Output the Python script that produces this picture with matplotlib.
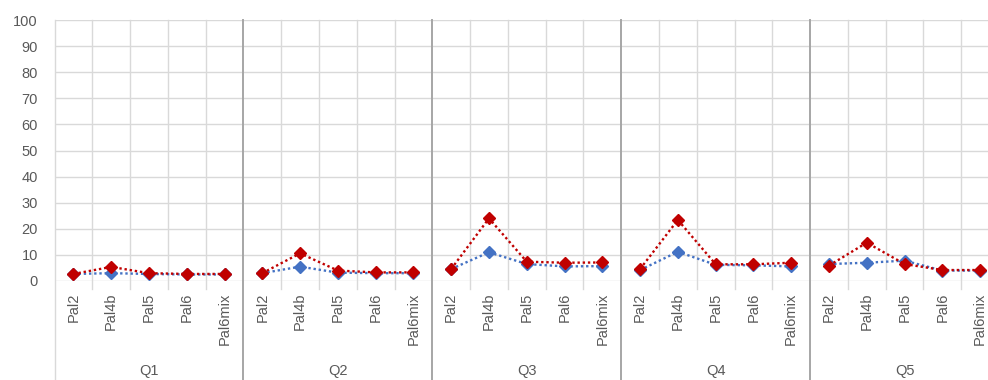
import matplotlib
matplotlib.use("Agg")
import matplotlib.pyplot as plt
import matplotlib.transforms as mtransforms

plt.rcParams['font.family'] = ['Liberation Sans', 'DejaVu Sans']

groups = ["Q1", "Q2", "Q3", "Q4", "Q5"]
categories = ["Pal2", "Pal4b", "Pal5", "Pal6", "Pal6mix"]

blue_vals = [
    [2.7, 3.0, 2.7, 2.5, 2.5],
    [3.0, 5.5, 3.2, 3.0, 3.0],
    [4.6, 11.0, 6.5, 5.6, 5.7],
    [4.2, 11.2, 6.2, 6.0, 5.6],
    [6.5, 7.0, 7.8, 4.0, 4.0],
]
red_vals = [
    [2.7, 5.4, 3.0, 2.7, 2.7],
    [3.0, 10.6, 4.0, 3.3, 3.3],
    [4.6, 24.0, 7.4, 7.0, 7.1],
    [4.6, 23.4, 6.4, 6.4, 7.0],
    [5.9, 14.7, 6.5, 4.2, 4.2],
]
yticks = list(range(0, 101, 10))

W, H = 988, 380
fig = plt.figure(figsize=(W / 100, H / 100), dpi=100)
left_px, right_px, top_px, bottom_px = 54.5, 999, 20, 281
ax = fig.add_axes([left_px / W, (H - bottom_px) / H, (right_px - left_px) / W, (bottom_px - top_px) / H])

n = len(categories)
total = n * len(groups)
grid_c = "#d9d9d9"
sep_c = "#a6a6a6"
text_c = "#595959"

for gi in range(len(groups)):
    xs = [gi * n + i for i in range(n)]
    ax.plot(xs, blue_vals[gi], linestyle=(0, (1, 1.2)), linewidth=1.7, color="#4472C4",
            marker="D", markersize=6.5, zorder=3)
for gi in range(len(groups)):
    xs = [gi * n + i for i in range(n)]
    ax.plot(xs, red_vals[gi], linestyle=(0, (1, 1.2)), linewidth=1.7, color="#C00000",
            marker="D", markersize=6.5, zorder=4)

ax.set_xlim(-0.5, total - 0.5)
ax.set_ylim(0, 100)
ax.set_yticks(yticks)
ax.set_yticklabels([str(v) for v in yticks], fontsize=10.5, color=text_c)
ax.tick_params(axis='y', length=0, pad=12)
ax.set_xticks([])
for y in yticks[1:]:
    ax.axhline(y, color=grid_c, linewidth=1, zorder=0)
ax.axhline(0, color=grid_c, linewidth=1, zorder=0)
for k in range(total + 1):
    x = k - 0.5
    if k % n == 0:
        ax.axvline(x, ymin=-99 / 261, ymax=1, color=sep_c if k not in (0, total) else grid_c,
                   linewidth=1.4 if k not in (0, total) else 1, clip_on=False, zorder=1)
    else:
        ax.axvline(x, ymin=-8 / 261, ymax=1, color=grid_c, linewidth=1, clip_on=False, zorder=0)
for s in ax.spines.values():
    s.set_visible(False)

trans = mtransforms.blended_transform_factory(ax.transData, ax.transAxes)
for gi, g in enumerate(groups):
    for i, c in enumerate(categories):
        ax.text(gi * n + i, -12 / 261, c, rotation=90, ha='center', va='top',
                fontsize=10.5, color=text_c, transform=trans)
    ax.text(gi * n + (n - 1) / 2, -90 / 261, g, ha='center', va='center',
            fontsize=10.5, color=text_c, transform=trans)

fig.savefig("out.png", dpi=100)
